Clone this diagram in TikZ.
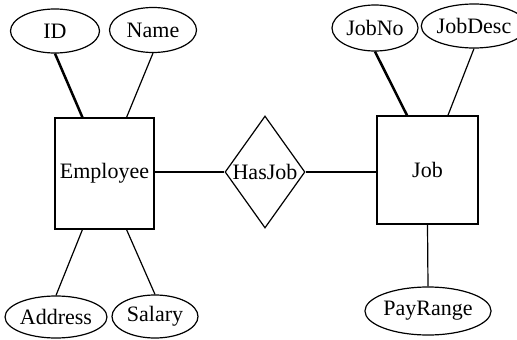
\documentclass[tikz,border=0pt]{standalone}
\usepackage{fontspec}
\setmainfont{Liberation Serif}
\usetikzlibrary{shapes.geometric,calc}
\begin{document}
\begin{tikzpicture}[x=1pt,y=-1pt,
  every node/.style={font=\fontsize{22}{26}\selectfont, inner sep=0pt},
  attr/.style={draw, ellipse, line width=1.2pt},
  ent/.style={draw, rectangle, line width=1.2pt},
  rel/.style={draw, diamond, aspect=0.7, line width=1.2pt},
  link/.style={line width=1.2pt},
  keylink/.style={line width=2.5pt}]
\useasboundingbox (0,0) rectangle (517,340);
% entities
\node[ent, minimum width=99pt, minimum height=111pt] (emp) at (104.5,173.5) {Employee};
\node[ent, minimum width=101pt, minimum height=108pt] (job) at (427.5,170) {Job};
\node[rel, minimum width=80pt, minimum height=112pt] (has) at (265,172) {HasJob};
% attributes
\node[attr, minimum width=89pt, minimum height=44pt] (id) at (55,31) {ID};
\node[attr, minimum width=87pt, minimum height=45pt] (name) at (153,30) {Name};
\node[attr, minimum width=87pt, minimum height=42pt] (addr) at (56,317) {Address};
\node[attr, minimum width=86pt, minimum height=43pt] (sal) at (155,316.5) {Salary};
\node[attr, minimum width=86pt, minimum height=46pt] (jobno) at (375,28) {JobNo};
\node[attr, minimum width=85pt, minimum height=44pt] (jobdesc) at (474,26) {JobDesc};
\node[attr, minimum width=100pt, minimum height=48pt] (pay) at (428,311) {PayRange};
% connectors
\draw[keylink] (id.south) -- ($(emp.north west)!0.28!(emp.north east)$);
\draw[link] (name.south) -- ($(emp.north west)!0.72!(emp.north east)$);
\draw[link] (addr.north) -- ($(emp.south west)!0.28!(emp.south east)$);
\draw[link] (sal.north) -- ($(emp.south west)!0.72!(emp.south east)$);
\draw[keylink] (jobno.south) -- ($(job.north west)!0.30!(job.north east)$);
\draw[link] (jobdesc.south) -- ($(job.north west)!0.70!(job.north east)$);
\draw[link] (job.south) -- (pay.north);
\draw[link] (emp.east |- has.west) -- (has.west);
\draw[link] (has.east) -- (job.west |- has.east);
\end{tikzpicture}
\end{document}
